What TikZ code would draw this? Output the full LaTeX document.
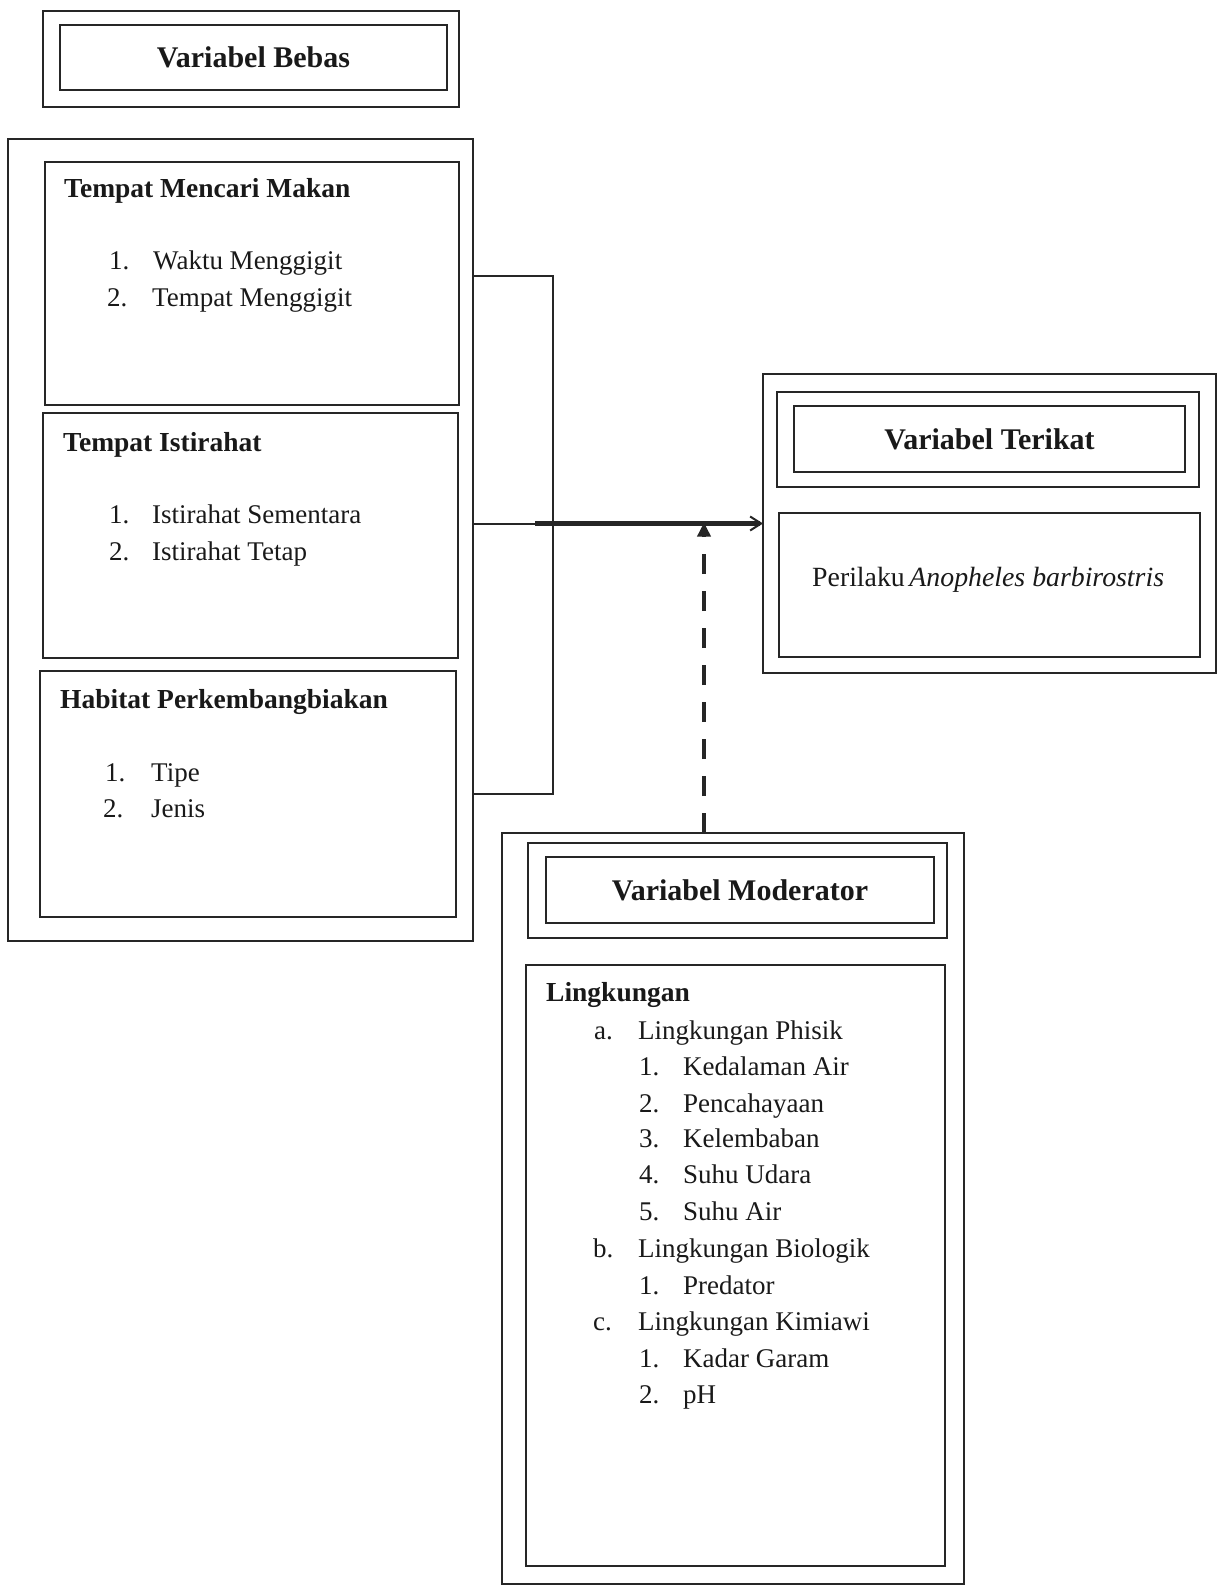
\documentclass[tikz,border=0pt]{standalone}
\usepackage{fontspec}
\setmainfont{Liberation Serif}
\usetikzlibrary{arrows.meta}
\tikzset{
  bx/.style={draw=black!85, line width=2pt, inner sep=0pt, outer sep=0pt, anchor=north west},
  hd/.style={font=\fontsize{30}{34}\selectfont\bfseries, inner sep=0pt, text=black!90},
  sub/.style={font=\fontsize{27.5}{32}\selectfont\bfseries, inner sep=0pt, anchor=base west, text=black!90},
  txt/.style={font=\fontsize{27}{32}\selectfont, inner sep=0pt, anchor=base west, text=black!90},
  link/.style={draw=black!85, line width=2pt},
}
\begin{document}
\begin{tikzpicture}[x=1pt,y=-1pt]
\useasboundingbox (0,0) rectangle (1219,1586);
% Variabel Bebas
\node[bx, minimum width=416pt, minimum height=96pt] (bebasO) at (43,11) {};
\node[bx, minimum width=387pt, minimum height=65pt] (bebasI) at (60,25) {};
\node[hd] (bebasT) at (bebasI.center) {Variabel Bebas};
% left group
\node[bx, minimum width=465pt, minimum height=802pt] (leftO) at (8,139) {};
\node[bx, minimum width=414pt, minimum height=243pt] (makan) at (45,162) {};
\node[bx, minimum width=415pt, minimum height=245pt] (istirahat) at (43,413) {};
\node[bx, minimum width=416pt, minimum height=246pt] (habitat) at (40,671) {};
\node[sub] (makanT) at (64,198) {Tempat Mencari Makan};
\node[txt] (m1n) at (109,270) {1.};
\node[txt] (m1) at (153,270) {Waktu Menggigit};
\node[txt] (m2n) at (107,307) {2.};
\node[txt] (m2) at (152,307) {Tempat Menggigit};
\node[sub] (istT) at (63,451) {Tempat Istirahat};
\node[txt] (i1n) at (109,523) {1.};
\node[txt] (i1) at (152,523) {Istirahat Sementara};
\node[txt] (i2n) at (109,560) {2.};
\node[txt] (i2) at (152,560) {Istirahat Tetap};
\node[sub] (habT) at (60,708) {Habitat Perkembangbiakan};
\node[txt] (h1n) at (105,781) {1.};
\node[txt] (h1) at (151,781) {Tipe};
\node[txt] (h2n) at (103,817) {2.};
\node[txt] (h2) at (151,817) {Jenis};
% Variabel Terikat
\node[bx, minimum width=453pt, minimum height=299pt] (terO) at (763,374) {};
\node[bx, minimum width=422pt, minimum height=95pt] (terH1) at (777,392) {};
\node[bx, minimum width=391pt, minimum height=66pt] (terH2) at (794,406) {};
\node[hd] (terT) at (terH2.center) {Variabel Terikat};
\node[bx, minimum width=421pt, minimum height=144pt] (terC) at (779,513) {};
\node[txt, font=\fontsize{27.8}{32}\selectfont] (perilaku) at (812,586) {Perilaku\,\textit{Anopheles barbirostris}};
% Variabel Moderator
\node[bx, minimum width=462pt, minimum height=751pt] (modO) at (502,833) {};
\node[bx, minimum width=419pt, minimum height=95pt] (modH1) at (528,843) {};
\node[bx, minimum width=388pt, minimum height=66pt] (modH2) at (546,857) {};
\node[hd] (modT) at (modH2.center) {Variabel Moderator};
\node[bx, minimum width=419pt, minimum height=601pt] (modC) at (526,965) {};
\node[sub] (lingT) at (546,1001) {Lingkungan};
\node[txt] (an) at (594,1039) {a.};
\node[txt] (a) at (638,1039) {Lingkungan Phisik};
\node[txt] (a1n) at (639,1075) {1.};
\node[txt] (a1) at (683,1075) {Kedalaman Air};
\node[txt] (a2n) at (639,1112) {2.};
\node[txt] (a2) at (683,1112) {Pencahayaan};
\node[txt] (a3n) at (639,1147) {3.};
\node[txt] (a3) at (683,1147) {Kelembaban};
\node[txt] (a4n) at (639,1183) {4.};
\node[txt] (a4) at (683,1183) {Suhu Udara};
\node[txt] (a5n) at (639,1220) {5.};
\node[txt] (a5) at (683,1220) {Suhu Air};
\node[txt] (bn) at (593,1257) {b.};
\node[txt] (b) at (638,1257) {Lingkungan Biologik};
\node[txt] (b1n) at (639,1294) {1.};
\node[txt] (b1) at (683,1294) {Predator};
\node[txt] (cn) at (593,1330) {c.};
\node[txt] (c) at (638,1330) {Lingkungan Kimiawi};
\node[txt] (c1n) at (639,1367) {1.};
\node[txt] (c1) at (683,1367) {Kadar Garam};
\node[txt] (c2n) at (639,1403) {2.};
\node[txt] (c2) at (683,1403) {pH};
% bracket
\coordinate (brA) at (473,276);
\coordinate (brB) at (553,276);
\coordinate (brC) at (553,794);
\coordinate (brD) at (473,794);
\draw[link] (brA) -- (brB) -- (brC) -- (brD);
% main arrow
\coordinate (mainS) at (leftO.east |- terO.west);
\coordinate (mainM) at (535,0 |- terO.west);
\draw[link] (mainS) -- (mainM);
\draw[draw=black!85, line width=4.5pt, -{Straight Barb[length=11pt,width=14pt,line width=2pt]}] (mainM) -- (terO.west);
% dashed moderator arrow
\coordinate (dBot) at (704,833);
\coordinate (dTop) at (704,0 |- terO.west);
\draw[draw=black!85, line width=4pt, dash pattern=on 20pt off 17pt, -{Triangle[length=14pt,width=13pt]}] (dBot) -- ([yshift=1pt]dTop);
\end{tikzpicture}
\end{document}
